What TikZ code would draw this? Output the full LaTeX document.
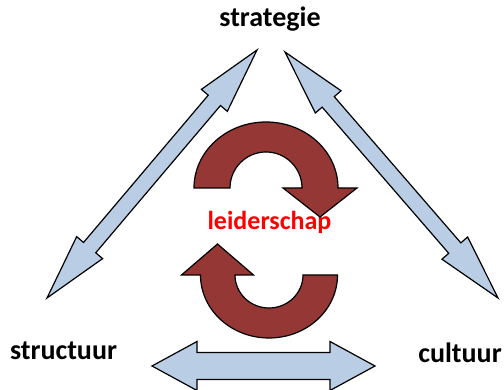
\documentclass[tikz,border=0pt]{standalone}
\usepackage{fontspec}
\setmainfont{Carlito}
\usetikzlibrary{calc}
\definecolor{linkblue}{HTML}{B9CDE5}
\definecolor{cyclered}{HTML}{953735}
% double-headed block arrow between two named points:
% [style] {start}{end}{head length}{head half-width}{shaft half-width}
\newcommand\dblarr[6][]{%
  \draw[#1] (#2)
    -- ($(#2)!#4!(#3)!#5!90:(#3)$) -- ($(#2)!#4!(#3)!#6!90:(#3)$)
    -- ($(#3)!#4!(#2)!#6!-90:(#2)$) -- ($(#3)!#4!(#2)!#5!-90:(#2)$)
    -- (#3)
    -- ($(#3)!#4!(#2)!#5!90:(#2)$) -- ($(#3)!#4!(#2)!#6!90:(#2)$)
    -- ($(#2)!#4!(#3)!#6!-90:(#3)$) -- ($(#2)!#4!(#3)!#5!-90:(#3)$)
    -- cycle;}
\begin{document}
\begin{tikzpicture}[x=1pt,y=1pt,
  link/.style={fill=linkblue,draw=black,line width=1.2pt,line join=miter},
  turn/.style={fill=cyclered,draw=black,line width=1.2pt,line join=miter},
  lbl/.style={anchor=base,inner sep=0pt,font=\bfseries\fontsize{28}{28}\selectfont},
  core/.style={anchor=base,inner sep=0pt,text=red,font=\bfseries\fontsize{26}{26}\selectfont}]
\useasboundingbox (0,0) rectangle (504,390);
\clip (0,0) rectangle (504,390);

% labels
\node[lbl] (strat) at (270,363) {strategie};
\node[lbl] (struc) at (63.5,30) {structuur};
\node[lbl] (cult) at (460,27) {cultuur};
\node[core] (lead) at (269.5,160) {leiderschap};

% end points of the three links
\coordinate (sl) at (257,340);
\coordinate (st) at (47,92);
\coordinate (sr) at (285,338);
\coordinate (cu) at (498,92);
\coordinate (bl) at (152,24);
\coordinate (br) at (375,24);

\dblarr[link]{sl}{st}{66pt}{17pt}{8pt}
\dblarr[link]{sr}{cu}{66pt}{17pt}{8pt}
\dblarr[link]{bl}{br}{45pt}{24.5pt}{13.5pt}

% upper turning arrow (clockwise, head pointing down)
\draw[turn] (194,202) arc[start angle=180,end angle=0,x radius=72,y radius=66]
  -- (357,202) -- (320,173) -- (283,202) -- (302,202)
  arc[start angle=0,end angle=180,radius=36] -- cycle;

% lower turning arrow (clockwise, head pointing up)
\draw[turn] (337.5,115) arc[start angle=0,end angle=-180,x radius=68.5,y radius=63]
  -- (181.5,115) -- (217.5,146) -- (253.5,115) -- (235,115)
  arc[start angle=180,end angle=360,x radius=34,y radius=33] -- cycle;
\end{tikzpicture}
\end{document}
